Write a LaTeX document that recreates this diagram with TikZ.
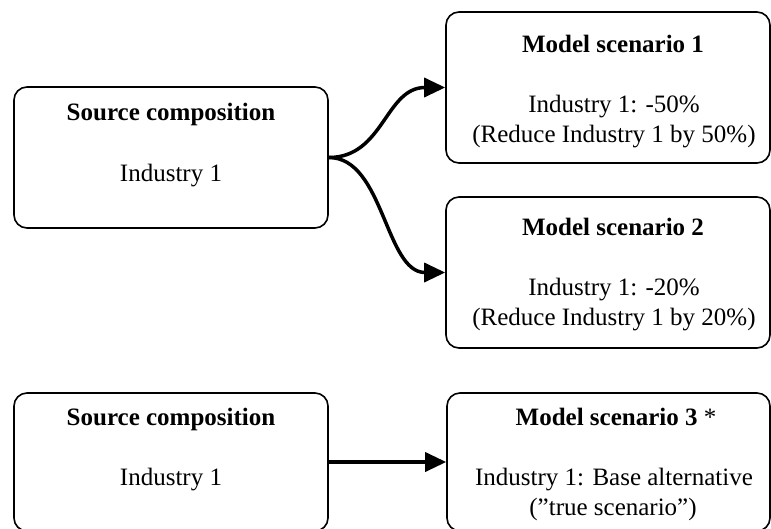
\documentclass[tikz,border=0pt]{standalone}
\usepackage{fontspec}
\setmainfont{Liberation Serif}
\usetikzlibrary{arrows.meta}
\begin{document}
\begin{tikzpicture}[x=1pt,y=-1pt,
  box/.style={draw=black,line width=1.6pt,rounded corners=13pt,inner sep=0pt},
  ttl/.style={anchor=base,inner sep=0pt,font=\fontsize{25}{30}\selectfont\bfseries},
  txt/.style={anchor=base,inner sep=0pt,font=\fontsize{25}{30}\selectfont},
  conn/.style={line width=3.5pt,-{Triangle[length=21pt,width=19pt]}}]
\useasboundingbox (0,0) rectangle (771,528);
% boxes
\node[box,minimum width=314pt,minimum height=141pt] (s1) at (171,157.5) {};
\node[box,minimum width=324pt,minimum height=151pt] (m1) at (608,87.5) {};
\node[box,minimum width=324pt,minimum height=151pt] (m2) at (608,272.5) {};
\node[box,minimum width=314pt,minimum height=138pt] (s2) at (171,462) {};
\node[box,minimum width=323pt,minimum height=138pt] (m3) at (608.5,462) {};
% texts
\node[ttl] (s1t) at (171,120) {Source composition};
\node[txt] (s1a) at (171,181) {Industry 1};
\node[ttl] (m1t) at (613,52) {Model scenario 1};
\node[txt] (m1a) at (614,112) {Industry 1: -50\%};
\node[txt] (m1b) at (614,142) {(Reduce Industry 1 by 50\%)};
\node[ttl] (m2t) at (613,235) {Model scenario 2};
\node[txt] (m2a) at (614,295) {Industry 1: -20\%};
\node[txt] (m2b) at (614,325) {(Reduce Industry 1 by 20\%)};
\node[ttl] (s2t) at (171,425) {Source composition};
\node[txt] (s2a) at (171,485) {Industry 1};
\node[ttl] (m3t) at (616,425) {Model scenario 3 \textmd{*}};
\node[txt] (m3a) at (614,485) {Industry 1: Base alternative};
\node[txt] (m3b) at (613,515) {(”true scenario”)};
% connectors
\draw[conn] (s1.east) .. controls +(55,0) and +(-60,0) .. (m1.west);
\draw[conn] (s1.east) .. controls +(55,0) and +(-60,0) .. (m2.west);
\draw[conn] (s2.east) -- (m3.west);
\end{tikzpicture}
\end{document}
